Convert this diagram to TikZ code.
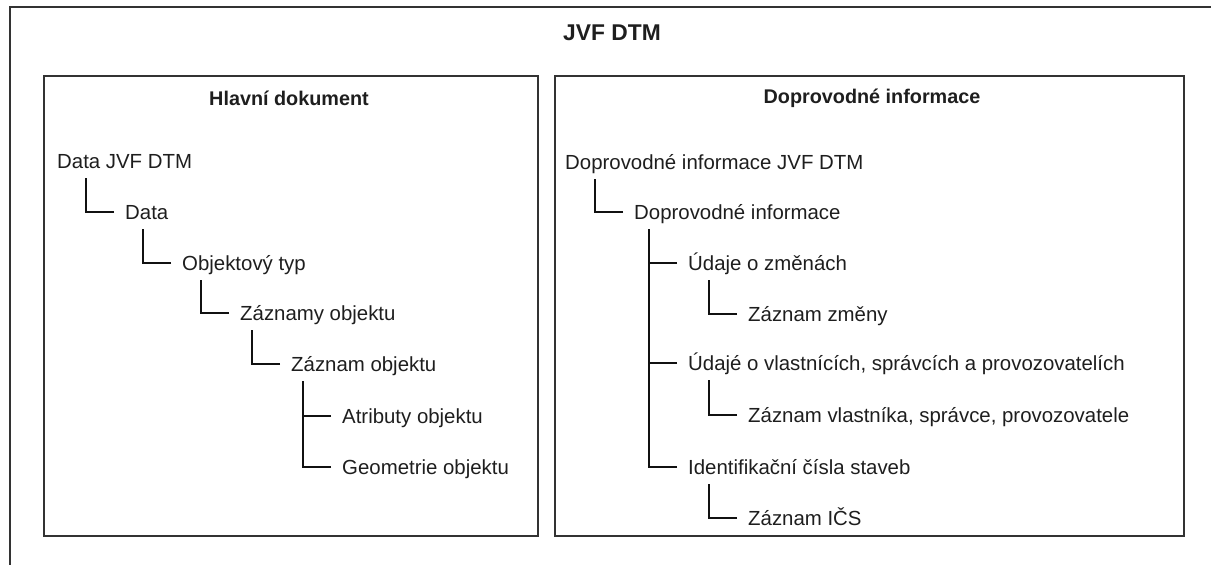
\documentclass[tikz,border=0pt]{standalone}
\usepackage{fontspec}
\setmainfont{Liberation Sans}
\usepackage{xcolor}
\usetikzlibrary{positioning}
\definecolor{frameGray}{HTML}{333333}
\definecolor{treeBlack}{HTML}{111111}
\definecolor{textGray}{HTML}{1E1E1E}
\tikzset{
  frame/.style   = {draw=frameGray, line width=1.6pt},
  panel/.style   = {rectangle, draw=frameGray, line width=2pt,
                    anchor=north west, inner sep=0pt},
  heading/.style = {font=\fontsize{19.8}{23}\selectfont\bfseries, text=textGray},
  item/.style    = {anchor=west, inner sep=0pt, minimum height=34pt,
                    text height=18pt, text depth=4pt,
                    font=\fontsize{20.4}{24}\selectfont, text=textGray},
  branch/.style  = {line width=1.5pt, draw=treeBlack}
}
% elbow from parent #1 down to child #2
\newcommand{\elbow}[2]{%
  \draw[branch] (#2.west) ++(-11,0) -- ++(-28,0) coordinate (knee) -- (knee |- #1.south);}

\begin{document}
\begin{tikzpicture}[x=1pt, y=-1pt]
\useasboundingbox (0,0) rectangle (1211,565);
\draw[frame] (10,565) -- (10,7) -- (1211,7);
\node[heading, font=\fontsize{22.8}{26}\selectfont\bfseries] (title) at (612,33) {JVF DTM};

% left panel
\node[panel, minimum width=494pt, minimum height=460pt] (main) at (43,75) {};
\node[heading] (mainHead) at (289,98) {Hlavní dokument};
\node[item] (dataJvf) at (57,161)  {Data JVF DTM};
\node[item] (data)    at (125,212) {Data};
\node[item] (objTyp)  at (182,263) {Objektový typ};
\node[item] (zazObjs) at (240,313) {Záznamy objektu};
\node[item] (zazObj)  at (291,364) {Záznam objektu};
\node[item] (atrObj)  at (342,416) {Atributy objektu};
\node[item] (geoObj)  at (342,467) {Geometrie objektu};
\elbow{dataJvf}{data}
\elbow{data}{objTyp}
\elbow{objTyp}{zazObjs}
\elbow{zazObjs}{zazObj}
\elbow{zazObj}{atrObj}
\elbow{zazObj}{geoObj}

% right panel
\node[panel, minimum width=629pt, minimum height=460pt] (doprov) at (554,75) {};
\node[heading] (doprovHead) at (872,98) {Doprovodné informace};
\node[item] (infoJvf)  at (565,162) {Doprovodné informace JVF DTM};
\node[item] (info)     at (634,212) {Doprovodné informace};
\node[item] (zmeny)    at (688,263) {Údaje o změnách};
\node[item] (zazZmeny) at (748,314) {Záznam změny};
\node[item] (vlast)    at (688,363) {Údajé o vlastnících, správcích a provozovatelích};
\node[item] (zazVlast) at (748,415) {Záznam vlastníka, správce, provozovatele};
\node[item] (ics)      at (688,467) {Identifikační čísla staveb};
\node[item] (zazIcs)   at (748,518) {Záznam IČS};
\elbow{infoJvf}{info}
\elbow{info}{zmeny}
\elbow{info}{vlast}
\elbow{info}{ics}
\elbow{zmeny}{zazZmeny}
\elbow{vlast}{zazVlast}
\elbow{ics}{zazIcs}
\end{tikzpicture}
\end{document}
